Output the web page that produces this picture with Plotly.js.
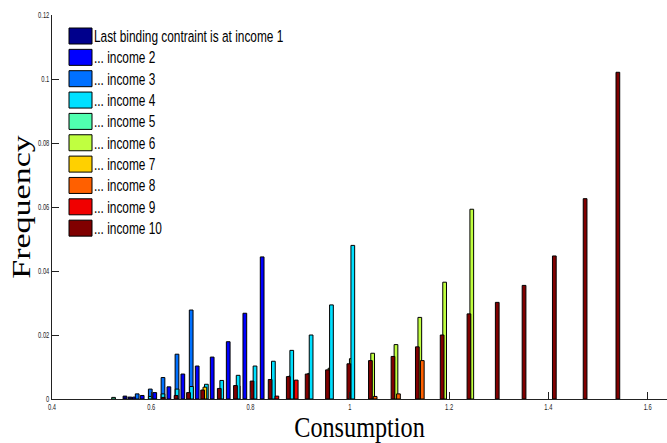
<!DOCTYPE html>
<html><head><meta charset="utf-8">
<script src="https://cdn.plot.ly/plotly-3.0.1.min.js"></script>
<style>html,body{margin:0;padding:0;background:#fff}#chart{width:667px;height:443px}</style>
</head><body><div id="chart"></div>
<script>
// ---- data ----
const seriesNames = [
  "Last binding contraint is at income 1", "... income 2", "... income 3", "... income 4",
  "... income 5", "... income 6", "... income 7", "... income 8", "... income 9", "... income 10"
];
const seriesColors = ["#00008c", "#0000ff", "#0070ff", "#00e0ff", "#50ffb0",
                      "#c0ff40", "#ffd000", "#ff6000", "#f00000", "#800000"];

const inc1X = [0.547, 0.557];
const inc1Y = [0.0009, 0.0006];
const inc2X = [0.566, 0.5817, 0.607, 0.6355, 0.6636, 0.6925, 0.7227, 0.755, 0.7885, 0.8234];
const inc2Y = [0.0006, 0.0011, 0.0020, 0.0038, 0.0078, 0.0103, 0.0131, 0.0179, 0.0268, 0.0444];
const inc3X = [0.5716, 0.598, 0.6236, 0.6518, 0.6804];
const inc3Y = [0.0016, 0.0031, 0.0067, 0.0140, 0.0278];
const inc4X = [0.598, 0.6236, 0.652, 0.681, 0.711, 0.742, 0.775, 0.809, 0.846, 0.883, 0.922, 0.963, 1.006];
const inc4Y = [0.0008, 0.0016, 0.0031, 0.0039, 0.0046, 0.0058, 0.0074, 0.0103, 0.0118, 0.0152, 0.0200, 0.0294, 0.0480];
const inc5X = [0.524];
const inc5Y = [0.0005];
const inc6X = [0.741, 0.775, 0.808, 0.845, 0.881, 0.919, 0.960, 1.003, 1.046, 1.093, 1.141, 1.191, 1.2457];
const inc6Y = [0.0032, 0.0041, 0.0055, 0.0060, 0.0072, 0.0080, 0.0096, 0.0126, 0.0143, 0.0170, 0.0255, 0.0365, 0.0593];
const inc7X = [0.708];
const inc7Y = [0.0037];
const inc8X = [1.051, 1.098, 1.146];
const inc8Y = [0.0008, 0.0016, 0.0120];
const inc9X = [0.853, 0.892];
const inc9Y = [0.0009, 0.0059];
const inc10X = [0.624, 0.650, 0.675, 0.7035, 0.737, 0.7696, 0.803, 0.8395, 0.876, 0.914, 0.955, 0.998,
                1.0415, 1.087, 1.136, 1.186, 1.240, 1.297, 1.351, 1.412, 1.474, 1.540];
const inc10Y = [0.0005, 0.0011, 0.0020, 0.0028, 0.0033, 0.0042, 0.0056, 0.0061, 0.0070, 0.0078, 0.0091, 0.0110,
                0.0120, 0.0133, 0.0163, 0.0200, 0.0266, 0.0302, 0.0355, 0.0447, 0.0626, 0.1021];

const xTickVals = [0.4, 0.6, 0.8, 1.0, 1.2, 1.4, 1.6];
const xTickText = ["0.4", "0.6", "0.8", "1", "1.2", "1.4", "1.6"];
const yTickVals = [0, 0.02, 0.04, 0.06, 0.08, 0.1, 0.12];
const yTickText = ["0", "0.02", "0.04", "0.06", "0.08", "0.1", "0.12"];

// ---- build ----
const seriesX = [inc1X, inc2X, inc3X, inc4X, inc5X, inc6X, inc7X, inc8X, inc9X, inc10X];
const seriesY = [inc1Y, inc2Y, inc3Y, inc4Y, inc5Y, inc6Y, inc7Y, inc8Y, inc9Y, inc10Y];
const drawOrder = [0, 1, 2, 4, 5, 3, 6, 7, 8, 9];
const barW = 0.0075;

const traces = drawOrder.map(i => ({
  type: 'bar', name: seriesNames[i], x: seriesX[i], y: seriesY[i],
  width: seriesX[i].map(() => barW),
  marker: {color: seriesColors[i], line: {color: '#000', width: 1}},
  showlegend: false, hoverinfo: 'x+y'
}));

// legend built from the series names / colours
const L = 52, T = 15, W = 615, H = 384;
const shapes = [], annotations = [];
seriesNames.forEach((nm, i) => {
  const cy = 36 + i * 21.35;
  shapes.push({type: 'rect', xref: 'paper', yref: 'paper',
    x0: (69 - L) / W, x1: (92 - L) / W,
    y0: (T + H - (cy + 8)) / H, y1: (T + H - (cy - 8)) / H,
    fillcolor: seriesColors[i], line: {color: '#000', width: 1}});
  annotations.push({xref: 'paper', yref: 'paper', x: (92 - L) / W, y: (T + H - cy) / H,
    xanchor: 'left', yanchor: 'middle', align: 'left', showarrow: false, text: nm,
    font: {family: '"Liberation Sans", Arial, sans-serif', size: 16.5, color: '#000'}});
});

const tickFont = {family: '"Liberation Sans", Arial, sans-serif', size: 8.5, color: '#222'};
const layout = {
  width: 667, height: 443,
  margin: {l: L, r: 0, t: T, b: 443 - T - H},
  paper_bgcolor: '#fff', plot_bgcolor: '#fff',
  barmode: 'overlay', bargap: 0,
  showlegend: false,
  xaxis: {range: [0.4, 1.639], tickvals: xTickVals, ticktext: xTickText,
    ticks: 'inside', ticklen: 7, tickcolor: '#222', showline: true, linecolor: '#222', linewidth: 1,
    showgrid: false, zeroline: false, tickfont: tickFont, automargin: false,
    title: {text: 'Consumption', standoff: 8,
      font: {family: '"Liberation Serif", "DejaVu Serif", serif', size: 28.5, color: '#000'}}},
  yaxis: {range: [0, 0.12], tickvals: yTickVals, ticktext: yTickText,
    ticks: 'inside', ticklen: 7, tickcolor: '#222', showline: true, linecolor: '#222', linewidth: 1,
    showgrid: false, zeroline: false, tickfont: tickFont, automargin: false,
    title: {text: 'Frequency', standoff: 2,
      font: {family: '"Liberation Serif", "DejaVu Serif", serif', size: 34, color: '#000'}}},
  shapes: shapes, annotations: annotations
};

// the reference image is horizontally compressed; emulate it on the text only
function squish(sel, sx, sy) {
  document.querySelectorAll(sel).forEach(t => {
    const ax = parseFloat(t.getAttribute('x')) || 0, ay = parseFloat(t.getAttribute('y')) || 0;
    const base = t.getAttribute('transform') || '';
    t.setAttribute('transform', `${base} translate(${ax},${ay}) scale(${sx},${sy}) translate(${-ax},${-ay})`);
  });
}
Plotly.newPlot('chart', traces, layout, {staticPlot: true, displayModeBar: false}).then(() => {
  squish('.annotation-text', 0.72, 1);
  squish('.xtick text, .ytick text', 0.68, 1);
  squish('text.xtitle', 0.85, 1);
  squish('text.ytitle', 1, 0.72);
});
</script></body></html>
